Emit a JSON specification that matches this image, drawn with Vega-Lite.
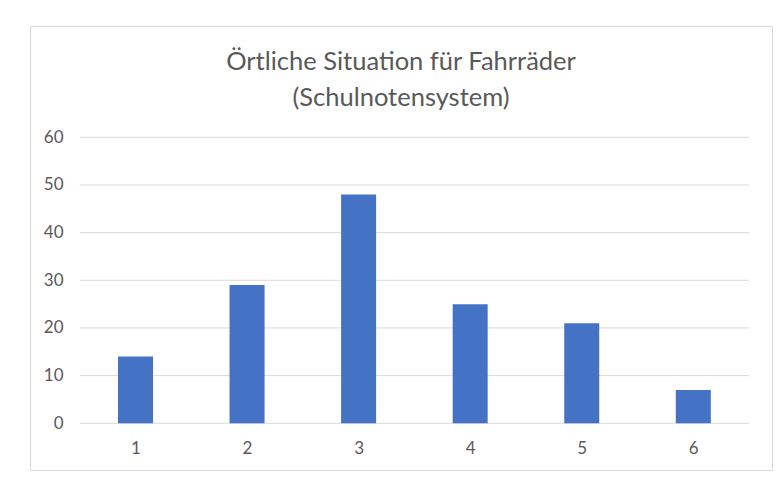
{
  "$schema": "https://vega.github.io/schema/vega-lite/v6.json",
  "width": 742,
  "height": 444,
  "autosize": {"type": "none"},
  "padding": {"left": 30, "top": 26, "right": 8, "bottom": 18},
  "background": "white",
  "config": {
    "view": {"stroke": "#d9d9d9", "strokeWidth": 1},
    "font": "Lato"
  },
  "title": {
    "text": ["Örtliche Situation für Fahrräder", "(Schulnotensystem)"],
    "font": "Lato",
    "fontSize": 25.5,
    "fontWeight": "normal",
    "color": "#595959",
    "lineHeight": 36,
    "anchor": "middle",
    "frame": "group",
    "baseline": "alphabetic",
    "offset": -43,
    "dy": 62
  },
  "datasets": {
    "noten": [
      {"note": 1, "anzahl": 14},
      {"note": 2, "anzahl": 29},
      {"note": 3, "anzahl": 48},
      {"note": 4, "anzahl": 25},
      {"note": 5, "anzahl": 21},
      {"note": 6, "anzahl": 7}
    ],
    "gitter": [
      {"anzahl": 0}, {"anzahl": 10}, {"anzahl": 20}, {"anzahl": 30},
      {"anzahl": 40}, {"anzahl": 50}, {"anzahl": 60}
    ]
  },
  "layer": [
    {
      "data": {"name": "gitter"},
      "mark": {"type": "rule", "color": "#d9d9d9", "strokeWidth": 1},
      "encoding": {
        "y": {
          "field": "anzahl", "type": "quantitative",
          "scale": {"domain": [-9.8, 83.35], "nice": false, "zero": false, "padding": 0},
          "axis": {"title": null, "values": [0, 10, 20, 30, 40, 50, 60], "grid": false, "domain": false, "ticks": false, "tickSize": 0, "labelPadding": 0, "offset": -33, "labelFont": "Lato", "labelFontSize": 17, "labelColor": "#595959"}
        },
        "x": {"datum": 0.5, "type": "quantitative",
          "scale": {"domain": [0.0543, 6.7055], "nice": false, "zero": false, "padding": 0},
          "axis": {"title": null, "values": [1, 2, 3, 4, 5, 6], "format": "d", "grid": false, "domain": false, "ticks": false, "tickSize": 0, "labelPadding": 0, "offset": -22, "labelBaseline": "middle", "labelFont": "Lato", "labelFontSize": 17, "labelColor": "#595959"}
        },
        "x2": {"datum": 6.5}
      }
    },
    {
      "data": {"name": "noten"},
      "mark": {"type": "bar", "color": "#4472C4", "size": 35},
      "encoding": {
        "x": {"field": "note", "type": "quantitative",
          "scale": {"domain": [0.0543, 6.7055], "nice": false, "zero": false, "padding": 0},
          "axis": {"title": null, "values": [1, 2, 3, 4, 5, 6], "format": "d", "grid": false, "domain": false, "ticks": false, "tickSize": 0, "labelPadding": 0, "offset": -22, "labelBaseline": "middle", "labelFont": "Lato", "labelFontSize": 17, "labelColor": "#595959"}
        },
        "y": {"field": "anzahl", "type": "quantitative",
          "scale": {"domain": [-9.8, 83.35], "nice": false, "zero": false, "padding": 0},
          "axis": {"title": null, "values": [0, 10, 20, 30, 40, 50, 60], "grid": false, "domain": false, "ticks": false, "tickSize": 0, "labelPadding": 0, "offset": -33, "labelFont": "Lato", "labelFontSize": 17, "labelColor": "#595959"}
        },
        "y2": {"datum": 0}
      }
    }
  ]
}
